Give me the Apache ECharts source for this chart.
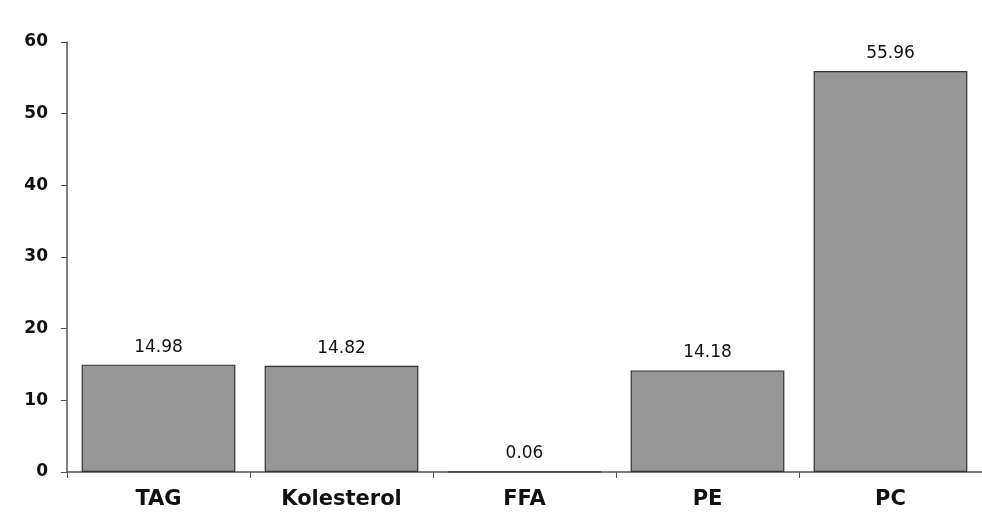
<!DOCTYPE html>
<html>
<head>
<meta charset="utf-8">
<script src="https://cdn.jsdelivr.net/npm/echarts@6/dist/echarts.min.js"></script>
<style>
  html, body { margin: 0; padding: 0; background: #fff; }
  #chart { width: 982px; height: 517px; }
</style>
</head>
<body>
<div id="chart"></div>
<script>
// Lipid class composition
const categories = ['TAG', 'Kolesterol', 'FFA', 'PE', 'PC'];
const values = [14.98, 14.82, 0.06, 14.18, 55.96];
const yTicks = [0, 10, 20, 30, 40, 50, 60];

const FONT = '"DejaVu Sans", "Liberation Sans", Arial, sans-serif';

const chart = echarts.init(document.getElementById('chart'));
chart.setOption({
  animation: false,
  backgroundColor: '#ffffff',
  grid: { left: 67, right: 0, top: 42, bottom: 45, containLabel: false },
  xAxis: {
    type: 'category',
    data: categories,
    axisLine: { lineStyle: { color: '#555', width: 1.5 } },
    axisTick: { show: true, length: 6, alignWithLabel: false, lineStyle: { color: '#555' } },
    axisLabel: {
      color: '#111', fontFamily: FONT,
      fontSize: 21, fontWeight: 'bold', margin: 17
    }
  },
  yAxis: {
    type: 'value',
    min: yTicks[0],
    max: yTicks[yTicks.length - 1],
    interval: 10,
    splitLine: { show: false },
    axisLine: { show: true, lineStyle: { color: '#555', width: 1.5 } },
    axisTick: { show: true, length: 6, lineStyle: { color: '#555' } },
    axisLabel: {
      color: '#111', fontFamily: FONT,
      fontSize: 17, fontWeight: 'bold', margin: 19
    }
  },
  series: [{
    type: 'bar',
    data: values,
    barCategoryGap: '16%',
    itemStyle: { color: '#969696', borderColor: '#333', borderWidth: 1.2 },
    label: {
      show: true, position: 'top', distance: 9,
      color: '#111', fontFamily: FONT, fontSize: 17,
      formatter: p => p.value.toFixed(2)
    }
  }]
});
</script>
</body>
</html>
